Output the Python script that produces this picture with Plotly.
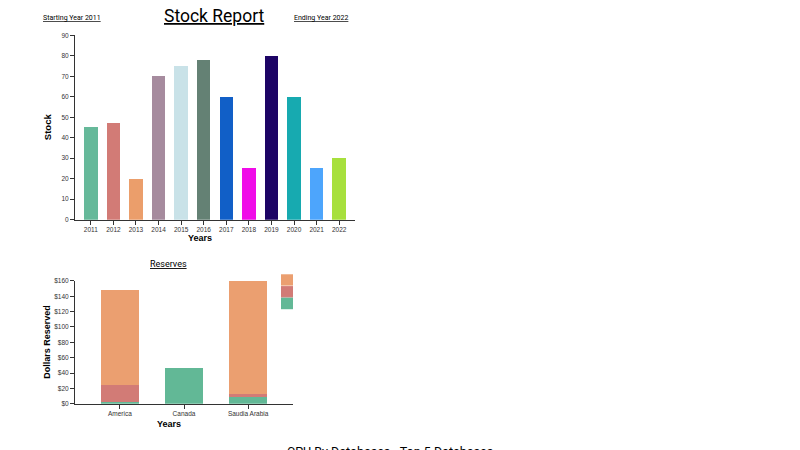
import plotly.graph_objects as go

years = ["2011", "2012", "2013", "2014", "2015", "2016", "2017", "2018", "2019", "2020", "2021", "2022"]
stock = [45, 47, 20, 70, 75, 78, 60, 25, 80, 60, 25, 30]
stock_colors = ["#66b99a", "#d27b76", "#eb9e6b", "#a68b9e", "#c9e2e8", "#648174",
                "#115fc7", "#f00ce8", "#1d0465", "#17aab0", "#4da5fc", "#a7e03d"]

countries = ["America", "Canada", "Saudia Arabia"]
res_green = [2, 47, 10]
res_red = [23, 0, 2]
res_orange = [123, 0, 151]
res_colors = {"green": "#62b896", "red": "#d27b76", "orange": "#eb9f70"}
reserve_ticks = [0, 20, 40, 60, 80, 100, 120, 140, 160]
reserve_ticktext = ["$" + str(v) for v in reserve_ticks]

# page has 8px body margin; figure starts at (8, 8)
OFF = 8
W, H = 792, 442
def px(x):
    return (x - OFF) / W
def py(y):
    return 1 - (y - OFF) / H

fig = go.Figure()
fig.add_trace(go.Bar(x=years, y=stock, marker=dict(color=stock_colors, line=dict(width=0)),
                     xaxis="x", yaxis="y", showlegend=False))
fig.add_trace(go.Bar(x=countries, y=res_green, marker=dict(color=res_colors["green"], line=dict(width=0)),
                     xaxis="x2", yaxis="y2", showlegend=False))
fig.add_trace(go.Bar(x=countries, y=res_red, marker=dict(color=res_colors["red"], line=dict(width=0)),
                     xaxis="x2", yaxis="y2", showlegend=False))
fig.add_trace(go.Bar(x=countries, y=res_orange, marker=dict(color=res_colors["orange"], line=dict(width=0)),
                     xaxis="x2", yaxis="y2", showlegend=False))

axis_common = dict(showgrid=False, zeroline=False, showline=True, linecolor="#333", linewidth=1,
                   ticks="outside", ticklen=4, tickcolor="#333",
                   tickfont=dict(family="Liberation Sans, Arial", size=6.5, color="#333"))

fig.update_layout(
    width=W, height=H, margin=dict(l=0, r=0, t=0, b=0),
    paper_bgcolor="white", plot_bgcolor="white",
    barmode="stack", bargap=0.4, showlegend=False,
    xaxis=dict(domain=[px(75), px(355)], anchor="y", type="category",
               range=[-0.7, 11.7], **axis_common),
    yaxis=dict(domain=[py(219), py(31.7)], anchor="x", range=[0, 90],
               tickvals=list(range(0, 91, 10)), **axis_common),
    xaxis2=dict(domain=[px(75), px(293)], anchor="y2", type="category",
                range=[-0.7, 2.7], **axis_common),
    yaxis2=dict(domain=[py(406), py(281.3)], anchor="x2", range=[0, 160],
                tickmode="array", tickvals=reserve_ticks, ticktext=reserve_ticktext, **axis_common),
)

# legend swatches (orange, red, green from top)
legend_order = ["orange", "red", "green"]
shapes = []
top = 274
for i, key in enumerate(legend_order):
    y0 = top + i * 12
    shapes.append(dict(type="rect", xref="paper", yref="paper",
                       x0=px(281), x1=px(293), y0=py(y0 + 12), y1=py(y0 + 0.5),
                       fillcolor=res_colors[key], line=dict(width=0)))
shapes.append(dict(type="line", xref="paper", yref="paper",
                   x0=px(281), x1=px(293), y0=py(298), y1=py(298),
                   line=dict(color="#b9b3a6", width=1)))
fig.update_layout(shapes=shapes)

ann_font = "Roboto, Liberation Sans"
lab_font = "Liberation Sans, Arial"
annotations = [
    dict(text="<u>Stock Report</u>", x=px(214), y=py(12), font=dict(family=ann_font, size=17.5, color="#000")),
    dict(text="<u>Starting Year 2011</u>", x=px(72), y=py(14), font=dict(family=ann_font, size=7, color="#000")),
    dict(text="<u>Ending Year 2022</u>", x=px(321), y=py(14), font=dict(family=ann_font, size=7, color="#000")),
    dict(text="<b>Stock</b>", x=px(47), y=py(125), textangle=-90,
         font=dict(family=lab_font, size=9.5, color="#000")),
    dict(text="<b>Years</b>", x=px(200), y=py(238), font=dict(family=lab_font, size=9, color="#000")),
    dict(text="<u>Reserves</u>", x=px(168), y=py(264), font=dict(family=ann_font, size=9, color="#000")),
    dict(text="<b>Dollars Reserved</b>", x=px(47), y=py(343), textangle=-90,
         font=dict(family=lab_font, size=9, color="#000")),
    dict(text="<b>Years</b>", x=px(169), y=py(427), font=dict(family=lab_font, size=9, color="#000")),
    dict(text="CPU By Databases - Top 5 Databases", x=px(390), y=py(445), yanchor="top",
         font=dict(family=ann_font, size=12.5, color="#000")),
]
for a in annotations:
    a.setdefault("xref", "paper")
    a.setdefault("yref", "paper")
    a.setdefault("showarrow", False)
    a.setdefault("xanchor", "center")
    a.setdefault("yanchor", "middle")
fig.update_layout(annotations=annotations)

fig.write_html("out.html")
